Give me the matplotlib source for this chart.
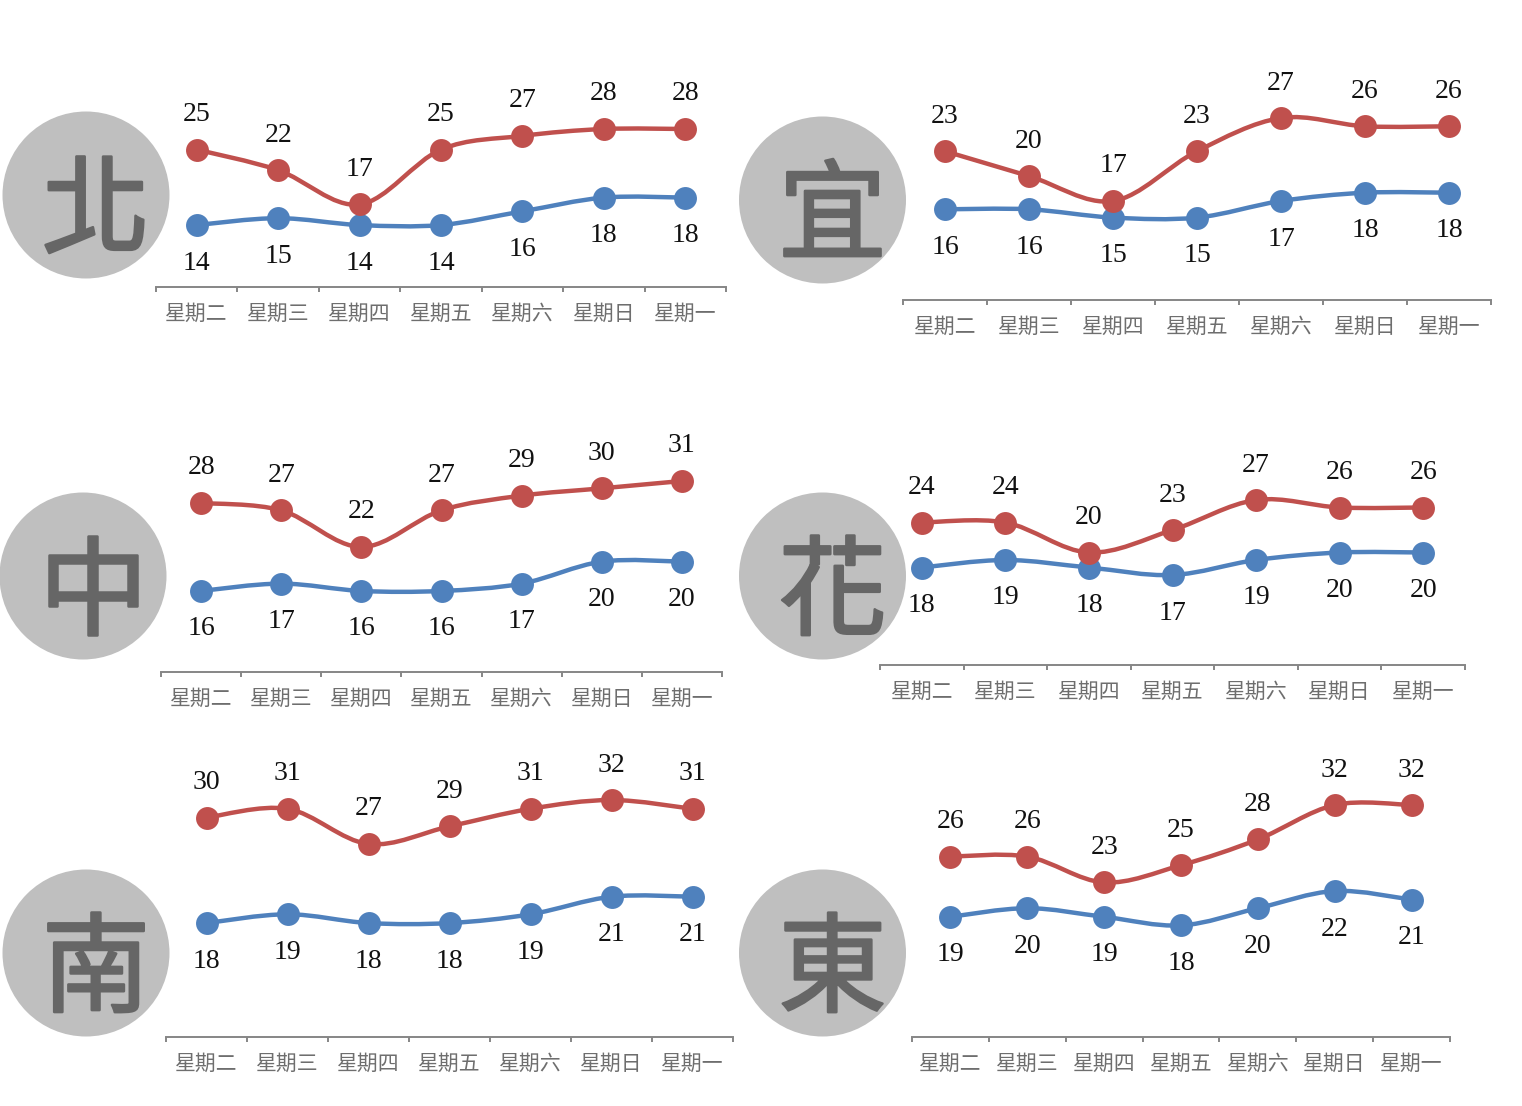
import numpy as np
import matplotlib
matplotlib.use('Agg')
import matplotlib.pyplot as plt
import matplotlib.patheffects as pe
from matplotlib.patches import Circle, PathPatch
from matplotlib.path import Path

W, H = 1522, 1106
days = ['星期二', '星期三', '星期四', '星期五', '星期六', '星期日', '星期一']

bei_hi = [25, 22, 17, 25, 27, 28, 28]
bei_lo = [14, 15, 14, 14, 16, 18, 18]
yi_hi = [23, 20, 17, 23, 27, 26, 26]
yi_lo = [16, 16, 15, 15, 17, 18, 18]
zhong_hi = [28, 27, 22, 27, 29, 30, 31]
zhong_lo = [16, 17, 16, 16, 17, 20, 20]
hua_hi = [24, 24, 20, 23, 27, 26, 26]
hua_lo = [18, 19, 18, 17, 19, 20, 20]
nan_hi = [30, 31, 27, 29, 31, 32, 31]
nan_lo = [18, 19, 18, 18, 19, 21, 21]
dong_hi = [26, 26, 23, 25, 28, 32, 32]
dong_lo = [19, 20, 19, 18, 20, 22, 21]

# name, hi, lo, axis left px, right px, axis line y px, y px of ref value, ref value, px/unit, circle cx, cy
panels = [
    ('北', bei_hi, bei_lo, 156, 726, 286.5, 129, 28, 6.86, 86, 195),
    ('宜', yi_hi, yi_lo, 903, 1491, 300, 118, 27, 8.3, 822.5, 200),
    ('中', zhong_hi, zhong_lo, 161, 722, 672, 481, 31, 7.33, 83, 576),
    ('花', hua_hi, hua_lo, 880, 1465, 665, 500, 27, 7.5, 822.5, 576),
    ('南', nan_hi, nan_lo, 166, 733, 1037, 800, 32, 8.79, 86, 953),
    ('東', dong_hi, dong_lo, 912, 1450, 1037, 805, 32, 8.6, 822.5, 953),
]

RED = '#C0504D'
BLUE = '#4F81BD'
AXIS = '#868686'
CJK = ['Noto Sans CJK TC', 'DejaVu Sans']
PX = 0.72  # points per pixel at dpi 100


def smooth(x, y):
    x = np.asarray(x, float)
    y = np.asarray(y, float)
    px = np.r_[x[0], x, x[-1]]
    py = np.r_[y[0], y, y[-1]]
    verts = [(x[0], y[0])]
    codes = [Path.MOVETO]
    for i in range(1, len(x)):
        c1 = (px[i] + (px[i + 1] - px[i - 1]) / 6, py[i] + (py[i + 1] - py[i - 1]) / 6)
        c2 = (px[i + 1] - (px[i + 2] - px[i]) / 6, py[i + 1] - (py[i + 2] - py[i]) / 6)
        verts += [c1, c2, (px[i + 1], py[i + 1])]
        codes += [Path.CURVE4] * 3
    return Path(verts, codes)


fig = plt.figure(figsize=(W / 100, H / 100), dpi=100, facecolor='white')
bg = fig.add_axes([0, 0, 1, 1])
bg.set_xlim(0, W)
bg.set_ylim(H, 0)
bg.axis('off')

for name, hi, lo, left, right, base, ref_y, ref_v, scale, cx, cy in panels:
    bg.add_patch(Circle((cx, cy), 83.5, facecolor='#BFBFBF', edgecolor='none'))
    bg.text(cx + 10, cy + 20, name, fontsize=78, family=CJK, color='#666666',
            ha='center', va='center',
            path_effects=[pe.withStroke(linewidth=1.8, foreground='#666666')])

    top = 40 if base < 400 else (420 if base < 700 else 740)
    ax = fig.add_axes([left / W, 1 - base / H, (right - left) / W, (base - top) / H])
    ax.patch.set_alpha(0)
    ax.set_xlim(0, 7)
    ax.set_ylim(ref_v - (base - ref_y) / scale, ref_v + (ref_y - top) / scale)
    xs = np.arange(7) + 0.5
    for vals, col, dy in ((lo, BLUE, -38), (hi, RED, 35)):
        ax.add_patch(PathPatch(smooth(xs, vals), facecolor='none', edgecolor=col,
                               linewidth=3.2, capstyle='round'))
        ax.plot(xs, vals, ls='none', marker='o', ms=16.5, mfc=col, mec=col, mew=0, clip_on=False)
        for xv, v in zip(xs, vals):
            ax.annotate(str(v), (xv, v), xytext=(0, dy * PX), textcoords='offset points',
                        ha='center', va='center', fontsize=20, family='Liberation Serif',
                        color='#111111')
    for s in ('top', 'left', 'right'):
        ax.spines[s].set_visible(False)
    ax.spines['bottom'].set_color(AXIS)
    ax.spines['bottom'].set_linewidth(1.4)
    ax.set_yticks([])
    ax.set_xticks(range(8))
    ax.set_xticklabels([])
    ax.tick_params(axis='x', direction='out', length=3.5, width=1.4, color=AXIS)
    ax.set_xticks(xs, minor=True)
    ax.set_xticklabels(days, minor=True, family=CJK, fontsize=15, color='#6e6e6e')
    ax.tick_params(axis='x', which='minor', length=0, pad=11.5)

fig.savefig('out.png', dpi=100)
